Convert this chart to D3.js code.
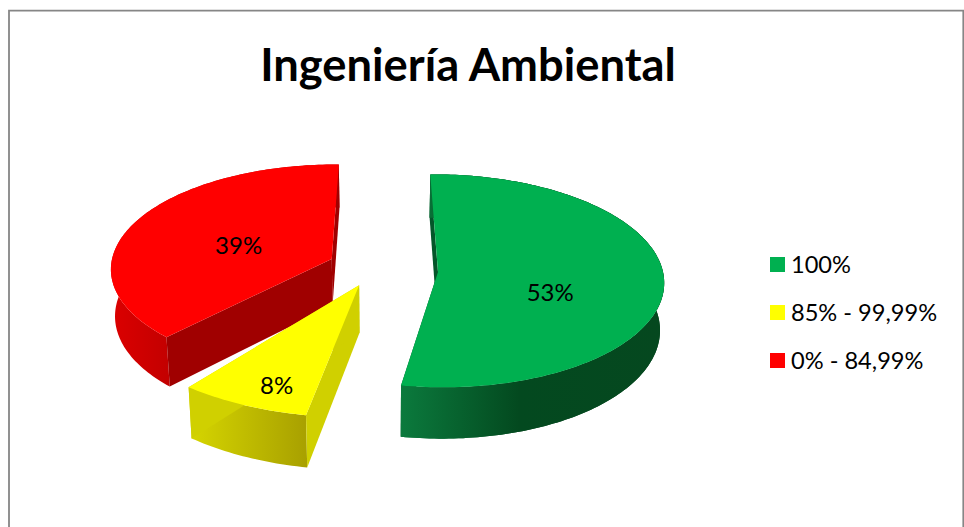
<!DOCTYPE html>
<html>
<head>
<meta charset="utf-8">
<title>Ingeniería Ambiental</title>
<script src="https://cdnjs.cloudflare.com/ajax/libs/d3/7.8.5/d3.min.js"></script>
<style>
  html, body { margin: 0; padding: 0; background: #fff; }
  svg { display: block; }
  text { font-family: Lato, "Open Sans", sans-serif; fill: #000; }
</style>
</head>
<body>
<div id="chart"></div>
<script>
const title = 'Ingeniería Ambiental';
const categories = ['100%', '85% - 99,99%', '0% - 84,99%'];
const shares = [53, 8.49, 38.51];
const colors = ['#00b050', '#ffff00', '#ff0000'];

const width = 964, height = 527;

// perspective set up, tuned by eye against the picture
const thickness = 47;
const viewX = 385, camDepth = 2700, camHeight = 1269, baseY = 272;
const bottomShrink = 0.985;

// per slice tuning: radius, tip in plane units (right, away), small rotation, trim at both ends
const radii = [225, 250, 222];
const explode = [[53, 0], [-25.6, -28], [-53.8, 28]];
const twist = [-0.0175, -0.006, 0.015];
const startTrim = [0, 0, 0.03];
const endTrim = [0, 0.05, 0];
const labelFrac = [0.52, 0.85, 0.42];
const labelNudge = [[-5, 15], [20, 0], [-9, 1]];

const cutColors = ['#04562a', '#d0d000', '#a00000'];
const wallStops = [
  [['0%', '#0b7a3d'], ['45%', '#03491f'], ['100%', '#05481f']],
  [['0%', '#d6d600'], ['100%', '#a8a000']],
  [['0%', '#dc0000'], ['100%', '#c40000']]
];

const svg = d3.select('#chart').append('svg')
  .attr('width', width)
  .attr('height', height);

// frame, the picture cuts it off before the bottom edge
svg.append('path')
  .attr('d', 'M9,527V10.7H963.3V527')
  .attr('fill', 'none')
  .attr('stroke', '#868686')
  .attr('stroke-width', 1.8);

svg.append('text')
  .attr('x', 468)
  .attr('y', 81)
  .attr('text-anchor', 'middle')
  .attr('font-size', 45.3)
  .attr('font-weight', 700)
  .text(title);

function project(i, angle, r, bottom) {
  const a = angle + twist[i];
  const X = explode[i][0] + r * Math.sin(a);
  const Y = explode[i][1] + r * Math.cos(a);
  const k = camDepth / (camDepth + Y);
  return [
    viewX + X * k * (bottom ? bottomShrink : 1),
    baseY + camHeight * (k - 1) + (bottom ? thickness * k : 0)
  ];
}

const arcs = d3.pie().sort(null).value(d => d)(shares);
const line = d3.line();

function arcPoints(i, bottom) {
  const a0 = arcs[i].startAngle + startTrim[i], a1 = arcs[i].endAngle - endTrim[i];
  const steps = Math.ceil((a1 - a0) / 0.02);
  return d3.range(steps + 1).map(s => project(i, a0 + (a1 - a0) * s / steps, radii[i], bottom));
}

const defs = svg.append('defs');

// red first, then green, then yellow in front
[2, 0, 1].forEach(i => {
  const g = svg.append('g').attr('class', 'slice');
  const topArc = arcPoints(i, false);
  const botArc = arcPoints(i, true);
  const xs = d3.extent(topArc.concat(botArc), p => p[0]);

  const grad = defs.append('linearGradient')
    .attr('id', 'wall' + i)
    .attr('gradientUnits', 'userSpaceOnUse')
    .attr('x1', i == 0 ? botArc[botArc.length - 1][0] : xs[0])
    .attr('x2', i == 2 ? topArc[0][0] : xs[1]);
  wallStops[i].forEach(s => grad.append('stop').attr('offset', s[0]).attr('stop-color', s[1]));

  const tipTop = project(i, 0, 0, false), tipBot = project(i, 0, 0, true);
  const cutFace = (t, b) => line([tipTop, t, b, tipBot]) + 'Z';

  // outer wall
  g.append('path')
    .attr('d', line(topArc.concat(botArc.slice().reverse())) + 'Z')
    .attr('fill', 'url(#wall' + i + ')');

  // straight cut faces
  g.append('path')
    .attr('d', cutFace(topArc[0], botArc[0]))
    .attr('fill', cutColors[i]);
  g.append('path')
    .attr('d', cutFace(topArc[topArc.length - 1], botArc[botArc.length - 1]))
    .attr('fill', cutColors[i]);

  // outer wall again for the green one, its near cut would show through
  if (i == 0) {
    g.append('path')
      .attr('d', line(topArc.concat(botArc.slice().reverse())) + 'Z')
      .attr('fill', 'url(#wall' + i + ')');
  }

  // top face
  g.append('path')
    .attr('d', line([tipTop].concat(topArc)) + 'Z')
    .attr('fill', colors[i]);
});

arcs.forEach((d, i) => {
  const mid = (d.startAngle + d.endAngle) / 2;
  const p = project(i, mid, radii[i] * labelFrac[i], false);
  svg.append('text')
    .attr('x', p[0] + labelNudge[i][0])
    .attr('y', p[1] + labelNudge[i][1])
    .attr('text-anchor', 'middle')
    .attr('dominant-baseline', 'central')
    .attr('font-size', 24)
    .text(Math.round(d.data) + '%');
});

// legend
const legendY = d3.scalePoint().domain(categories).range([265, 361]);
const legend = svg.selectAll('g.legend')
  .data(categories)
  .enter().append('g')
  .attr('class', 'legend')
  .attr('transform', d => 'translate(770,' + legendY(d) + ')');

legend.append('rect')
  .attr('y', -8)
  .attr('width', 15)
  .attr('height', 15)
  .attr('fill', (d, i) => colors[i]);

legend.append('text')
  .attr('x', 21)
  .attr('y', 8)
  .attr('font-size', 23.6)
  .text(d => d);
</script>
</body>
</html>
